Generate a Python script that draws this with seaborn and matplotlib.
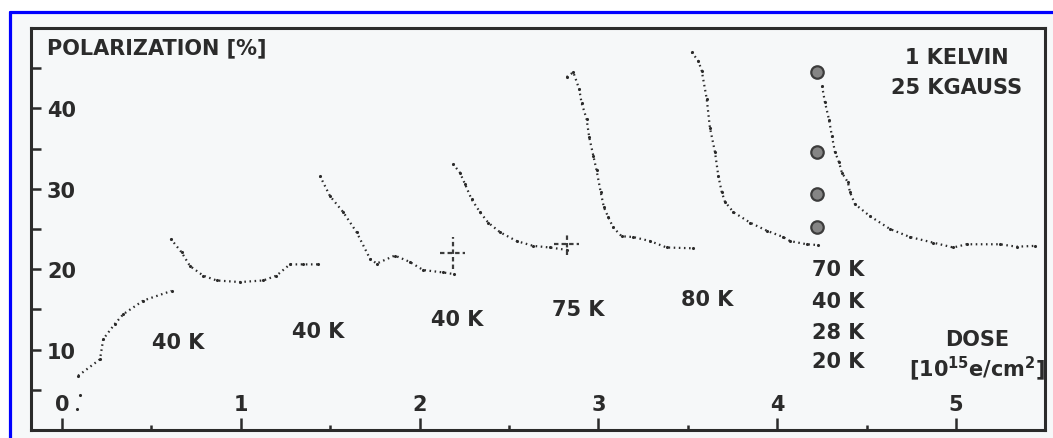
import matplotlib
matplotlib.use("Agg")
import matplotlib.pyplot as plt
from matplotlib.lines import Line2D
from matplotlib.patches import Rectangle
import pandas as pd
import seaborn as sns

# Polarization [%] versus electron dose [1e15 e/cm^2] at 1 K / 25 kG,
# with anneal steps between successive irradiation runs.
run1_dose = [0.091, 0.213, 0.231, 0.296, 0.343, 0.455, 0.613]
run1_pol = [6.75, 8.8, 11.3, 13.2, 14.4, 16.1, 17.3]

run2_dose = [0.608, 0.669, 0.716, 0.790, 0.865, 0.996, 1.126, 1.200, 1.275, 1.350, 1.433]
run2_pol = [23.8, 22.1, 20.4, 19.2, 18.6, 18.4, 18.6, 19.2, 20.6, 20.6, 20.6]

run3_dose = [1.443, 1.499, 1.573, 1.648, 1.723, 1.760, 1.862, 1.946, 2.020, 2.130, 2.190]
run3_pol = [31.6, 29.1, 27.1, 24.6, 21.3, 20.7, 21.7, 20.9, 19.9, 19.6, 19.4]

run4_dose = [2.187, 2.226, 2.254, 2.291, 2.338, 2.384, 2.450, 2.543, 2.636, 2.729, 2.823]
run4_pol = [33.1, 32.0, 30.6, 28.7, 27.1, 25.8, 24.6, 23.5, 22.9, 22.7, 22.4]

run5_dose = [2.823, 2.860, 2.893, 2.906, 2.934, 2.949, 2.972, 2.990, 3.013, 3.031,
             3.055, 3.083, 3.130, 3.195, 3.289, 3.382, 3.531]
run5_pol = [43.9, 44.5, 42.4, 40.7, 38.7, 36.4, 34.1, 32.3, 29.6, 27.7,
            26.5, 25.2, 24.1, 24.0, 23.5, 22.7, 22.6]

run6_dose = [3.522, 3.559, 3.578, 3.606, 3.624, 3.652, 3.671, 3.690, 3.708, 3.755,
             3.848, 3.941, 4.034, 4.072, 4.165, 4.230]
run6_pol = [47.0, 45.9, 44.7, 41.2, 37.6, 34.6, 31.6, 29.6, 28.4, 27.1,
            25.8, 24.8, 24.0, 23.5, 23.1, 23.0]

run7_dose = [4.251, 4.267, 4.290, 4.306, 4.323, 4.346, 4.362, 4.396, 4.407, 4.435,
             4.519, 4.631, 4.743, 4.873, 4.985, 5.060, 5.246, 5.339, 5.442]
run7_pol = [42.8, 40.8, 38.6, 36.6, 34.6, 33.3, 32.0, 30.8, 29.6, 28.1,
            26.6, 25.0, 24.0, 23.3, 22.7, 23.1, 23.1, 22.8, 22.9]

early_dose = [0.085, 0.100]
early_pol = [2.6, 4.3]

# Polarization reached after annealing at 70, 40, 28 and 20 K
anneal_dose = [4.223, 4.223, 4.223, 4.223]
anneal_pol = [44.5, 34.6, 29.4, 25.2]
anneal_temps = ["70 K", "40 K", "28 K", "20 K"]

# Error crosses
cross_dose = [2.187, 2.824]
cross_pol = [22.0, 23.1]
cross_xerr = [0.07, 0.07]
cross_yerr = [1.95, 1.3]

# Anneal temperature labels under each run
step_labels = ["40 K", "40 K", "40 K", "75 K", "80 K"]
step_x = [0.649, 1.432, 2.209, 2.886, 3.607]
step_y = [10.9, 12.3, 13.8, 15.0, 16.3]

x_major = [0, 1, 2, 3, 4, 5]
x_minor = [0.5, 1.5, 2.5, 3.5, 4.5]
y_major = [10, 20, 30, 40]
y_minor = [5, 15, 25, 35, 45]

runs = [
    (run1_dose, run1_pol), (run2_dose, run2_pol), (run3_dose, run3_pol),
    (run4_dose, run4_pol), (run5_dose, run5_pol), (run6_dose, run6_pol),
    (run7_dose, run7_pol),
]
df = pd.concat(
    [pd.DataFrame({"dose": d, "pol": p, "run": i}) for i, (d, p) in enumerate(runs)],
    ignore_index=True,
)

sns.set_style("white")
plt.rcParams["font.family"] = ["DejaVu Sans"]
plt.rcParams["font.weight"] = "bold"
plt.rcParams["mathtext.fontset"] = "dejavusans"

ink = "#2b2b2b"
paper = "#f6f8f9"
W, H = 1053, 439

fig = plt.figure(figsize=(W / 100, H / 100), dpi=100)
fig.patch.set_facecolor("white")
fig.add_artist(Rectangle((10 / W, 0), 1, 1 - 12.5 / H, transform=fig.transFigure,
                         facecolor=paper, edgecolor="none", zorder=-5))
fig.add_artist(Line2D([10 / W, 10 / W], [0, 1 - 12.5 / H], transform=fig.transFigure,
                      color="#0000ff", lw=2.3, zorder=10))
fig.add_artist(Line2D([10 / W, 1], [1 - 12.5 / H, 1 - 12.5 / H], transform=fig.transFigure,
                      color="#0000ff", lw=2.3, zorder=10))

ax = fig.add_axes([31 / W, 8 / H, (1045 - 31) / W, (431 - 29) / H])
ax.set_facecolor("none")

sns.lineplot(data=df, x="dose", y="pol", units="run", estimator=None, sort=False,
             color=ink, lw=1.6, linestyle=(0, (0.7, 1.6)), ax=ax)
sns.scatterplot(data=df, x="dose", y="pol", s=5, color=ink, linewidth=0, ax=ax)
sns.scatterplot(x=early_dose, y=early_pol, s=5, color=ink, linewidth=0, ax=ax)
sns.scatterplot(x=anneal_dose, y=anneal_pol, s=80, color="#858585",
                edgecolor="#3c3c3c", linewidth=1.6, ax=ax, zorder=4)

eb = ax.errorbar(cross_dose, cross_pol, xerr=cross_xerr, yerr=cross_yerr, fmt="none",
                 ecolor="#3c3c3c", elinewidth=1.6, capsize=0)
for coll in eb[2]:
    coll.set_linestyle((0, (2.0, 1.4)))

ax.set_xlim(-0.173, 5.498)
ax.set_ylim(0, 50)
ax.set_xlabel("")
ax.set_ylabel("")

for sp in ax.spines.values():
    sp.set_linewidth(2.2)
    sp.set_color(ink)

ax.set_xticks(x_major)
ax.set_xticklabels([str(v) for v in x_major])
ax.set_xticks(x_minor, minor=True)
ax.set_yticks(y_major)
ax.set_yticklabels([str(v) for v in y_major])
ax.set_yticks(y_minor, minor=True)

ax.tick_params(axis="x", which="major", direction="in", length=8.5, width=1.8,
               pad=-26, labelsize=15, colors=ink, bottom=True, top=False)
ax.tick_params(axis="x", which="minor", direction="in", length=3.5, width=1.8,
               colors=ink, bottom=True, top=False)
ax.tick_params(axis="y", which="both", direction="in", length=7, width=1.8,
               colors=ink, left=True, right=False)
ax.tick_params(axis="y", which="major", pad=-11.5, labelsize=15)
for lab in ax.get_yticklabels():
    lab.set_horizontalalignment("left")

txt = dict(color=ink, fontsize=15, fontweight="bold")
ax.text(-0.084, 47.6, "POLARIZATION [%]", ha="left", va="center", **txt)
ax.text(5.006, 46.4, "1 KELVIN", ha="center", va="center", **txt)
ax.text(5.006, 42.7, "25 KGAUSS", ha="center", va="center", **txt)
for s, x, y in zip(step_labels, step_x, step_y):
    ax.text(x, y, s, ha="center", va="center", **txt)
for s, y in zip(anneal_temps, [20.0, 16.0, 12.2, 8.6]):
    ax.text(4.195, y, s, ha="left", va="center", **txt)
ax.text(5.117, 11.3, "DOSE", ha="center", va="center", **txt)
ax.text(5.117, 7.8, r"[10$^{15}$e/cm$^{2}$]", ha="center", va="center", **txt)

fig.savefig("out.png", dpi=100, facecolor=fig.get_facecolor())
